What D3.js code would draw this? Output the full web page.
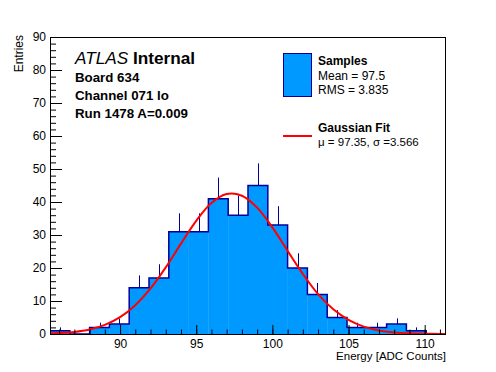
<!DOCTYPE html>
<html>
<head>
<meta charset="utf-8">
<script src="https://cdn.jsdelivr.net/npm/d3@7"></script>
<style>
  body { margin: 0; background: #fff; }
  svg text { font-family: "Liberation Sans", Arial, sans-serif; fill: #000; }
</style>
</head>
<body>
<svg id="chart"></svg>
<script>
// Histogram of energy samples with gaussian fit (ROOT style plot)

const binEdges = [85.4, 86.7, 88.0, 89.3, 90.6, 91.9, 93.2, 94.5, 95.8, 97.1, 98.4,
                  99.7, 101.0, 102.3, 103.6, 104.9, 106.2, 107.5, 108.8, 110.1, 111.4];
const binCounts = [1, 0, 2, 3, 14, 17, 31, 31, 41, 36, 45, 33, 20, 12, 5, 2, 2, 3, 1, 0];

// fit curve (mu = 97.35, sigma = 3.566)
const fitX = [85.4, 86, 87, 88, 89, 90, 91, 92, 93, 94, 95, 96, 97, 98, 99, 100,
              101, 102, 103, 104, 105, 106, 107, 108, 109, 110, 111, 111.4];
const fitY = [0.16, 0.27, 0.63, 1.37, 2.75, 5.09, 8.73, 13.8, 20.2, 27.4, 34.3, 39.7, 42.4, 41.9, 38.3, 32.3,
              25.2, 18.2, 12.1, 7.5, 4.3, 2.25, 1.09, 0.49, 0.21, 0.08, 0.03, 0.02];

const xMajor = [90, 95, 100, 105, 110];
const xMinor = d3.range(86, 112, 1);
const yMajor = [0, 10, 20, 30, 40, 50, 60, 70, 80, 90];
const yMinor = d3.range(0, 91, 2);

const infoLines = ["Board 634", "Channel 071 lo", "Run 1478 A=0.009"];
const legendSamples = ["Samples", "Mean = 97.5", "RMS = 3.835"];
const legendFit = ["Gaussian Fit", "\u03bc = 97.35, \u03c3 =3.566"];

const W = 496, H = 372;
const padL = 50, padR = 446, padT = 37, padB = 334;
const fillColor = "#0099ff", lineColor = "#000099";

const svg = d3.select("#chart").attr("width", W).attr("height", H);
svg.append("rect").attr("width", W).attr("height", H).attr("fill", "#fff");

const x = d3.scaleLinear().domain([binEdges[0], binEdges[binEdges.length - 1]]).range([padL, padR]);
const y = d3.scaleLinear().domain([0, 90]).range([padB, padT]);

svg.append("clipPath").attr("id", "frameClip")
  .append("rect").attr("x", padL).attr("y", padT).attr("width", padR - padL).attr("height", padB - padT);

const plot = svg.append("g").attr("clip-path", "url(#frameClip)");

const bins = binCounts.map((c, i) => ({ x0: binEdges[i], x1: binEdges[i + 1], c: c }));

// error bars (lower half hidden under the fill)
plot.selectAll(".err")
  .data(bins.filter(d => d.c > 0))
  .enter().append("line")
  .attr("class", "err")
  .attr("x1", d => Math.round(x((d.x0 + d.x1) / 2)) + 0.5)
  .attr("x2", d => Math.round(x((d.x0 + d.x1) / 2)) + 0.5)
  .attr("y1", d => y(d.c + Math.sqrt(d.c)))
  .attr("y2", d => y(Math.max(0, d.c - Math.sqrt(d.c))))
  .attr("stroke", lineColor).attr("stroke-width", 1);

// filled bins
plot.selectAll(".bar")
  .data(bins)
  .enter().append("rect")
  .attr("class", "bar")
  .attr("x", d => x(d.x0))
  .attr("width", d => x(d.x1) - x(d.x0) + 0.3)
  .attr("y", d => y(d.c))
  .attr("height", d => y(0) - y(d.c))
  .attr("fill", fillColor);

// outline as steps
let pts = [[x(bins[0].x0), y(0)]];
bins.forEach(d => { pts.push([x(d.x0), y(d.c)]); pts.push([x(d.x1), y(d.c)]); });
pts.push([x(bins[bins.length - 1].x1), y(0)]);
plot.append("path")
  .attr("d", d3.line()(pts))
  .attr("fill", "none").attr("stroke", lineColor).attr("stroke-width", 1.5);

// gaussian fit
plot.append("path")
  .datum(fitX.map((v, i) => [v, fitY[i]]))
  .attr("d", d3.line().x(d => x(d[0])).y(d => y(d[1])).curve(d3.curveCatmullRom))
  .attr("fill", "none").attr("stroke", "#ff0000").attr("stroke-width", 2);

// frame
svg.append("rect")
  .attr("x", padL + 0.5).attr("y", padT + 0.5)
  .attr("width", padR - padL - 1).attr("height", padB - padT)
  .attr("fill", "none").attr("stroke", "#000").attr("stroke-width", 1);

// axes (ticks pointing inward)
svg.append("g").attr("transform", `translate(0,${padB})`)
  .call(d3.axisBottom(x).tickValues(xMajor).tickSizeInner(-9).tickSizeOuter(0).tickPadding(5));
svg.append("g").attr("transform", `translate(0,${padB})`)
  .call(d3.axisBottom(x).tickValues(xMinor).tickSizeInner(-4.5).tickSizeOuter(0).tickFormat(""));
svg.append("g").attr("transform", `translate(${padL},0)`)
  .call(d3.axisLeft(y).tickValues(yMajor).tickSizeInner(-12).tickSizeOuter(0).tickPadding(4));
svg.append("g").attr("transform", `translate(${padL},0)`)
  .call(d3.axisLeft(y).tickValues(yMinor).tickSizeInner(-6).tickSizeOuter(0).tickFormat(""));

svg.selectAll(".domain").remove();
svg.selectAll(".tick line").attr("stroke", "#000");
svg.selectAll(".tick text").style("font-size", "12px").attr("fill", "#000");

// axis titles
svg.append("text")
  .attr("x", padR).attr("y", 360)
  .attr("text-anchor", "end")
  .style("font-size", "11.5px")
  .text("Energy [ADC Counts]");
svg.append("text")
  .attr("transform", `translate(23,${padT - 2}) rotate(-90)`)
  .attr("text-anchor", "end")
  .style("font-size", "12px")
  .text("Entries");

// ATLAS label
const atlas = svg.append("text").attr("x", 75).attr("y", 64).style("font-size", "17.2px");
atlas.append("tspan").style("font-style", "italic").text("ATLAS");
atlas.append("tspan").style("font-weight", "bold").text(" Internal");

svg.selectAll(".info")
  .data(infoLines)
  .enter().append("text")
  .attr("x", 75).attr("y", (d, i) => 82 + i * 18)
  .style("font-size", "13.3px").style("font-weight", "bold")
  .text(d => d);

// legend
svg.append("rect")
  .attr("x", 283.5).attr("y", 53.5).attr("width", 28).attr("height", 43)
  .attr("fill", fillColor).attr("stroke", lineColor).attr("stroke-width", 1);
svg.selectAll(".legS")
  .data(legendSamples)
  .enter().append("text")
  .attr("x", 318).attr("y", (d, i) => [65, 79.5, 93.5][i])
  .style("font-size", "12px")
  .style("font-weight", (d, i) => i === 0 ? "bold" : "normal")
  .text(d => d);

svg.append("line")
  .attr("x1", 283).attr("x2", 312).attr("y1", 136).attr("y2", 136)
  .attr("stroke", "#ff0000").attr("stroke-width", 2);
svg.selectAll(".legF")
  .data(legendFit)
  .enter().append("text")
  .attr("x", 318).attr("y", (d, i) => [131.5, 145.5][i])
  .style("font-size", (d, i) => i === 0 ? "12px" : "11.5px")
  .style("font-weight", (d, i) => i === 0 ? "bold" : "normal")
  .text(d => d);
</script>
</body>
</html>
